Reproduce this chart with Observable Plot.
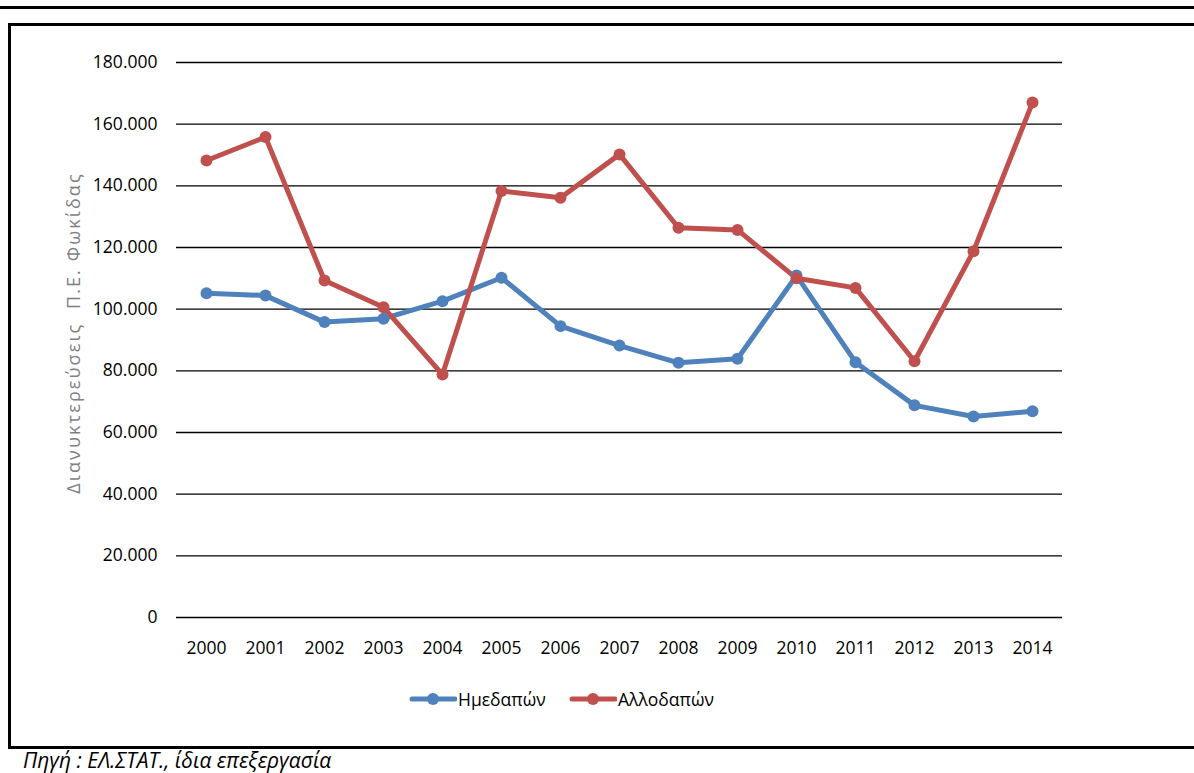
<!DOCTYPE html>
<html>
<head>
<meta charset="utf-8">
<script src="https://cdn.jsdelivr.net/npm/d3@7"></script>
<script src="https://cdn.jsdelivr.net/npm/@observablehq/plot@0.6"></script>
<style>
  html, body { margin: 0; padding: 0; background: #fff; width: 1194px; height: 773px; overflow: hidden; }
  body { position: relative; font-family: "Open Sans", "Liberation Sans", sans-serif; }
  .ln { position: absolute; background: #000; }
  #chart { position: absolute; left: 0; top: 0; }
  #ytitle { position: absolute; left: 73px; top: 333px; transform: translate(-50%, -50%) rotate(-90deg);
    white-space: pre; color: #7f7f7f; font-size: 18px; letter-spacing: 2.1px; }
  #legend { position: absolute; top: 686px; left: 0; width: 1194px; height: 26px; }
  .li { position: absolute; top: 0; display: flex; align-items: center; font-size: 17.5px; color: #000; }
  #source { position: absolute; left: 23px; top: 749px; font-style: italic; font-size: 21px; line-height: 1.1; color: #000; white-space: nowrap; }
</style>
</head>
<body>
<div class="ln" style="left:0;top:6px;width:1194px;height:2.5px"></div>
<div class="ln" style="left:8px;top:23px;width:1186px;height:2.5px"></div>
<div class="ln" style="left:8px;top:23px;width:2.5px;height:726px"></div>
<div class="ln" style="left:8px;top:746px;width:1186px;height:2.5px"></div>
<div id="chart"></div>
<div id="ytitle">Διανυκτερεύσεις  Π.Ε. Φωκίδας</div>
<div id="legend"></div>
<div id="source">Πηγή : ΕΛ.ΣΤΑΤ., ίδια επεξεργασία</div>
<script>
const years = ["2000","2001","2002","2003","2004","2005","2006","2007","2008","2009","2010","2011","2012","2013","2014"];
const domestic = [105200,104400,95800,96900,102600,110200,94500,88200,82600,83900,110900,82800,68800,65200,66900];
const foreign  = [148200,155800,109300,100600,78800,138300,136100,150200,126400,125700,110000,106900,83100,118800,167000];
const seriesNames = ["Ημεδαπών","Αλλοδαπών"];
const seriesColors = ["#4f81bd","#c0504d"];
const yTicks = [0,20000,40000,60000,80000,100000,120000,140000,160000,180000];

const rows = [];
years.forEach((y,i) => {
  rows.push({year: y, value: domestic[i], series: seriesNames[0]});
  rows.push({year: y, value: foreign[i], series: seriesNames[1]});
});

const fmt = d => d === 0 ? "0" : d3.format(",")(d).replace(/,/g, ".");

const chart = Plot.plot({
  width: 1194,
  height: 680,
  marginLeft: 176,
  marginRight: 132,
  marginTop: 62,
  marginBottom: 63,
  style: {fontFamily: "'Open Sans', 'Liberation Sans', sans-serif", fontSize: "17.5px", color: "#000", background: "transparent"},
  x: {type: "point", domain: years, padding: 0.5, label: null},
  y: {domain: [0, 180000], label: null},
  color: {domain: seriesNames, range: seriesColors},
  marks: [
    Plot.ruleY(yTicks, {stroke: "#000", strokeWidth: 1.4}),
    Plot.axisY({ticks: yTicks, tickSize: 0, tickPadding: 19, tickFormat: fmt, label: null, fontSize: 17.5}),
    Plot.axisX({tickSize: 0, tickPadding: 24, label: null, fontSize: 17.5}),
    Plot.line(rows, {x: "year", y: "value", z: "series", stroke: "series", strokeWidth: 5, strokeLinejoin: "round", strokeLinecap: "round"}),
    Plot.dot(rows, {x: "year", y: "value", fill: "series", r: 6})
  ]
});
document.getElementById("chart").appendChild(chart);

// Legend
const legend = document.getElementById("legend");
const legendPos = [409, 569];
seriesNames.forEach((name, i) => {
  const item = document.createElement("div");
  item.className = "li";
  item.style.left = legendPos[i] + "px";
  item.innerHTML = `<svg width="48" height="26" style="display:block"><line x1="3" y1="13" x2="46" y2="13" stroke="${seriesColors[i]}" stroke-width="5" stroke-linecap="round"/><circle cx="24" cy="13" r="6" fill="${seriesColors[i]}"/></svg><span style="margin-left:1px">${name}</span>`;
  legend.appendChild(item);
});
</script>
</body>
</html>
